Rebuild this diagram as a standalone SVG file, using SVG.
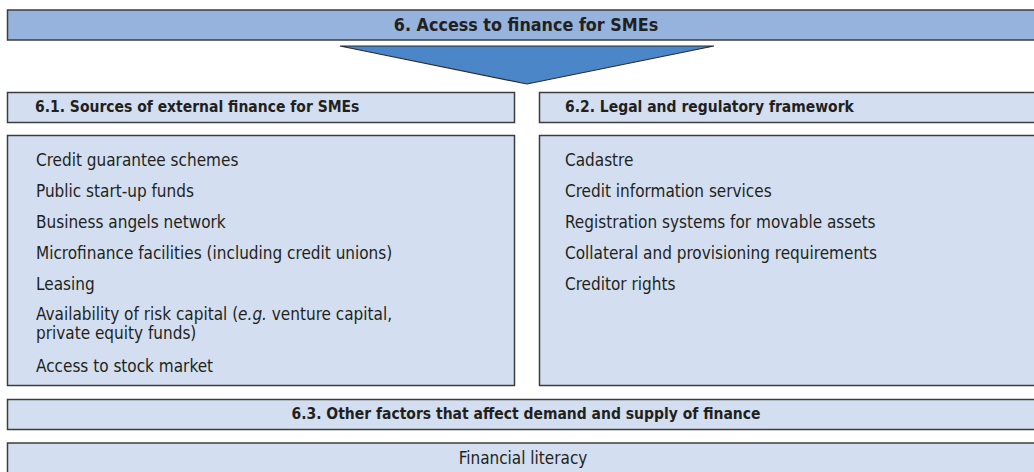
<svg xmlns="http://www.w3.org/2000/svg" width="1034" height="472" viewBox="0 0 1034 472">
  <style>
    .box { stroke: #3c3c3c; stroke-width: 1.5; }
    .main { fill: #95b3dc; }
    .sub { fill: #d3dff0; }
    .t { font-family: "Liberation Sans Narrow", "DejaVu Sans Condensed", "Liberation Sans", sans-serif; fill: #231f20; }
    .h { font-weight: bold; font-size: 15.5px; }
    .h0 { font-weight: bold; font-size: 17.8px; }
    .b { font-size: 17px; }
  </style>
  <rect width="1034" height="472" fill="#ffffff"/>

  <g id="title">
    <rect class="box main" x="7.5" y="10" width="1040" height="30"/>
    <text class="t h0" x="526" y="31" text-anchor="middle">6. Access to finance for SMEs</text>
  </g>

  <g id="connectors">
    <polygon points="340,46 714,46 527,84" fill="#4b86c8" stroke="#2b2b2b" stroke-width="1.2" stroke-linejoin="miter"/>
  </g>

  <g id="sources">
    <rect class="box sub" x="7.5" y="92.5" width="507" height="30"/>
    <text class="t h" x="35" y="111.5">6.1. Sources of external finance for SMEs</text>
    <rect class="box sub" x="7.5" y="135.5" width="507" height="250"/>
    <text class="t b" x="36" y="165.5">Credit guarantee schemes</text>
    <text class="t b" x="36" y="196.5">Public start-up funds</text>
    <text class="t b" x="36" y="227.5">Business angels network</text>
    <text class="t b" x="36" y="258.5">Microfinance facilities (including credit unions)</text>
    <text class="t b" x="36" y="290">Leasing</text>
    <text class="t b" x="36" y="319.5">Availability of risk capital (<tspan font-style="italic">e.g.</tspan> venture capital,<tspan x="36" dy="19">private equity funds)</tspan></text>
    <text class="t b" x="36" y="372">Access to stock market</text>
  </g>

  <g id="framework">
    <rect class="box sub" x="539.5" y="92.5" width="510" height="30"/>
    <text class="t h" x="565" y="111.5">6.2. Legal and regulatory framework</text>
    <rect class="box sub" x="539.5" y="135.5" width="510" height="250"/>
    <text class="t b" x="565" y="165.5">Cadastre</text>
    <text class="t b" x="565" y="196.5">Credit information services</text>
    <text class="t b" x="565" y="227.5">Registration systems for movable assets</text>
    <text class="t b" x="565" y="258.5">Collateral and provisioning requirements</text>
    <text class="t b" x="565" y="290">Creditor rights</text>
  </g>

  <g id="other-factors">
    <rect class="box sub" x="7.5" y="399.5" width="1040" height="30"/>
    <text class="t h" x="526" y="419" text-anchor="middle">6.3. Other factors that affect demand and supply of finance</text>
    <rect class="box sub" x="7.5" y="443" width="1040" height="40"/>
    <text class="t b" x="523" y="464" text-anchor="middle">Financial literacy</text>
  </g>
</svg>
